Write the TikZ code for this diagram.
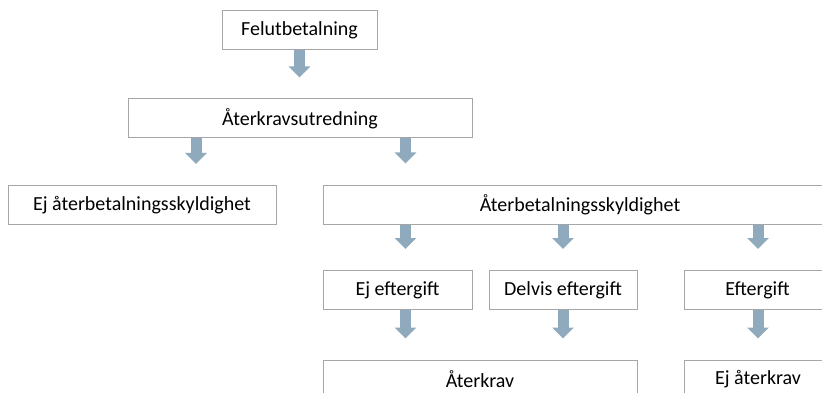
\documentclass[tikz,border=0pt]{standalone}
\usepackage{fontspec}
\setmainfont{Carlito}
\usetikzlibrary{arrows.meta}
\definecolor{boxgray}{RGB}{166,166,166}
\definecolor{flowblue}{RGB}{143,170,189}

\begin{document}
\begin{tikzpicture}[x=1pt, y=-1pt,
    box/.style={draw=boxgray, line width=1pt, fill=white, minimum height=39pt, inner sep=0pt, font=\fontsize{20}{24}\selectfont},
    flow/.style={draw=flowblue, line width=11pt, -{Triangle[width=21pt,length=11pt]}, shorten >=21pt}]
    \clip (0,0) rectangle (822,393);
    \node[box, minimum width=155pt] (fel) at (299.5,30.5) {Felutbetalning};
    \node[box, minimum width=344pt] (atr) at (300,118.5) {Återkravsutredning};
    \node[box, minimum width=268pt] (ejs) at (142,205) {Ej återbetalningsskyldighet};
    \node[box, minimum width=514pt] (abs) at (580,204.5) {Återbetalningsskyldighet};
    \node[box, minimum width=149pt] (eje) at (397.5,290) {Ej eftergift};
    \node[box, minimum width=148pt] (del) at (563,290) {Delvis eftergift};
    \node[box, minimum width=147pt] (eft) at (757.5,290) {Eftergift};
    \node[box, minimum width=314pt] (akr) at (480,379.5) {Återkrav};
    \node[box, minimum width=148pt] (ejk) at (758,379.5) {Ej återkrav};
    % columns of the arrows
    \coordinate (k1) at (196,0);
    \coordinate (k2) at (405.5,0);
    \coordinate (k3) at (563,0);
    \coordinate (k4) at (758,0);
    \draw[flow] (fel.south) -- (atr.north -| fel.south);
    \draw[flow] (atr.south -| k1) -- (ejs.north -| k1);
    \draw[flow] (atr.south -| k2) -- (abs.north -| k2);
    \draw[flow] (abs.south -| k2) -- (eje.north -| k2);
    \draw[flow] (abs.south -| k3) -- (del.north -| k3);
    \draw[flow] (abs.south -| k4) -- (eft.north -| k4);
    \draw[flow] (eje.south -| k2) -- (akr.north -| k2);
    \draw[flow] (del.south -| k3) -- (akr.north -| k3);
    \draw[flow] (eft.south -| k4) -- (ejk.north -| k4);
\end{tikzpicture}
\end{document}
